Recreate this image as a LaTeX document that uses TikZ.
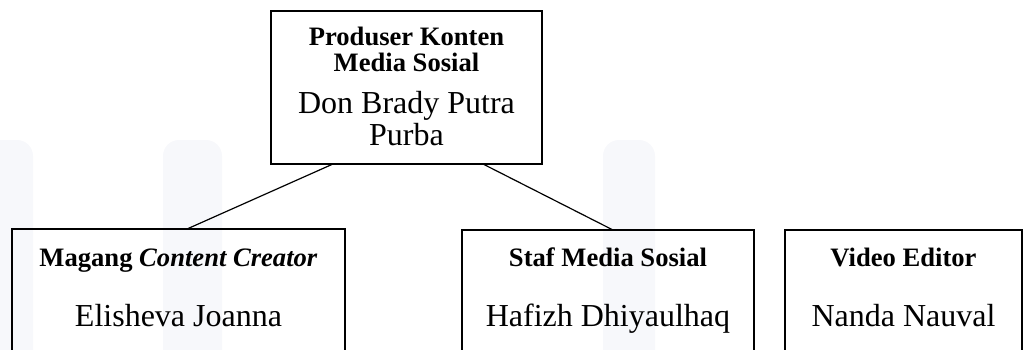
\documentclass[tikz,border=0pt]{standalone}
\usepackage{fontspec}
\setmainfont{Liberation Serif}
\usepackage{xcolor}
\usepackage{tikz}
\usetikzlibrary{calc}

\definecolor{watermark}{RGB}{247,248,251}

\begin{document}
\begin{tikzpicture}[x=0.5pt,y=-0.5pt,
  box/.style={draw,line width=1pt,inner sep=0pt,outer sep=0pt},
  jabatan/.style={font=\fontsize{13.3}{13}\selectfont\bfseries,inner sep=0pt},
  nama/.style={font=\fontsize{16}{16}\selectfont,inner sep=0pt}]

% Define the page
\useasboundingbox (0,0) rectangle (1025,349);
\clip (0,0) rectangle (1025,349);

% Draw the watermark
\fill[watermark,rounded corners=8pt] (-20,140) rectangle (33,420);
\fill[watermark,rounded corners=8pt] (163,140) rectangle (222,420);
\fill[watermark,rounded corners=8pt] (603,140) rectangle (655,420);

% Draw the boxes
\node[box,minimum width=135.5pt,minimum height=76.5pt] (produser) at (406.5,87.5) {};
\node[box,minimum width=166.5pt,minimum height=100pt,anchor=north] (magang) at (178.5,229) {};
\node[box,minimum width=146pt,minimum height=100pt,anchor=north] (staf) at (608,230) {};
\node[box,minimum width=118.5pt,minimum height=100pt,anchor=north] (editor) at (903.5,230) {};

% Draw the texts
\node[jabatan,align=center,anchor=north] (produserT) at (406.5,27) {Produser Konten\\Media Sosial};
\node[nama,align=center,anchor=north] (produserN) at (406.5,91) {Don Brady Putra\\Purba};
\node[jabatan,anchor=base] (magangT) at (178.5,266) {Magang \textit{Content Creator}};
\node[nama,anchor=base] (magangN) at (178.5,326) {Elisheva Joanna};
\node[jabatan,anchor=base] (stafT) at (608,266) {Staf Media Sosial};
\node[nama,anchor=base] (stafN) at (608,326) {Hafizh Dhiyaulhaq};
\node[jabatan,anchor=base] (editorT) at (903.5,266) {Video Editor};
\node[nama,anchor=base] (editorN) at (903.5,326) {Nanda Nauval};

% Draw the connectors
\coordinate (kiri) at ($(produser.south)+(-73.5,0)$);
\coordinate (kanan) at ($(produser.south)+(76.5,0)$);
\draw[line width=0.6pt] (kiri) -- ($(magang.north)+(8.5,0)$);
\draw[line width=0.6pt] (kanan) -- ($(staf.north)+(5,0)$);

\end{tikzpicture}
\end{document}
